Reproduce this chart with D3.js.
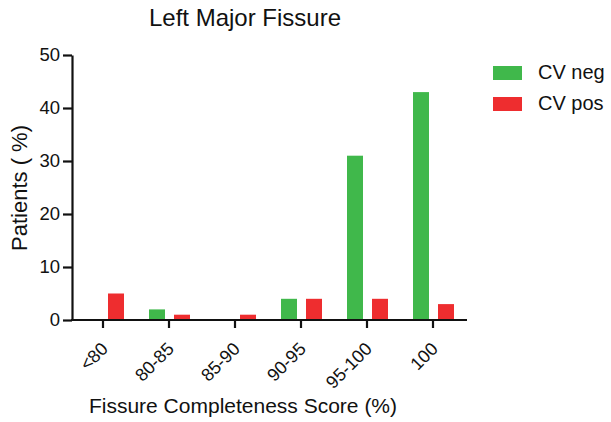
<!DOCTYPE html>
<html>
<head>
<meta charset="utf-8">
<script src="https://cdn.jsdelivr.net/npm/d3@7"></script>
<style>
  body { margin: 0; background: #fff; }
  text { font-family: "Liberation Sans", Arial, Helvetica, sans-serif; fill: #111; }
</style>
</head>
<body>
<script>
const categories = ["<80", "80-85", "85-90", "90-95", "95-100", "100"];
const series = ["CV neg", "CV pos"];
const cvNeg = [0, 2, 0, 4, 31, 43];
const cvPos = [5, 1, 1, 4, 4, 3];
const yTicks = [0, 10, 20, 30, 40, 50];
const colors = ["#40b84b", "#ee2d2f"];

const w = 611, h = 422;

const rows = categories.map((c, i) => ({cat: c, vals: [cvNeg[i], cvPos[i]]}));

const svg = d3.select("body").append("svg")
  .attr("width", w)
  .attr("height", h);

const x = d3.scaleBand()
  .domain(categories)
  .range([70, 466]);

// green / red pair inside each band
const x1 = d3.scaleBand()
  .domain(series)
  .range([-20, 21])
  .paddingInner(0.36);

const y = d3.scaleLinear()
  .domain([0, 50])
  .range([320, 55]);

svg.append("g")
  .selectAll("g")
  .data(rows)
  .enter().append("g")
  .attr("transform", d => "translate(" + (x(d.cat) + x.bandwidth() / 2) + ",0)")
  .selectAll("rect")
  .data(d => d.vals.map((v, i) => ({s: series[i], v: v, i: i})))
  .enter().append("rect")
  .attr("x", d => x1(d.s))
  .attr("width", x1.bandwidth())
  .attr("y", d => y(d.v))
  .attr("height", d => y(0) - y(d.v))
  .style("fill", d => colors[d.i]);

const yAxis = d3.axisLeft(y)
  .tickValues(yTicks)
  .tickSize(9)
  .tickSizeOuter(0)
  .tickPadding(3);

const gy = svg.append("g")
  .attr("transform", "translate(72,0)")
  .call(yAxis);
gy.selectAll("text").style("font-size", "18.5px");

const xAxis = d3.axisBottom(x)
  .tickSize(8)
  .tickSizeOuter(0)
  .tickPadding(4);

const gx = svg.append("g")
  .attr("transform", "translate(0,320)")
  .call(xAxis);
gx.select(".domain").attr("d", "M71,0H467");
gx.selectAll("text")
  .style("font-size", "18px")
  .attr("text-anchor", "end")
  .attr("dy", null)
  .attr("transform", "translate(6,30) rotate(-45)")
  .attr("y", 0)
  .attr("x", 0);

svg.selectAll(".domain, .tick line")
  .attr("stroke", "#111")
  .attr("stroke-width", 2.2);

svg.append("text")
  .attr("x", 245)
  .attr("y", 26)
  .attr("text-anchor", "middle")
  .style("font-size", "24px")
  .text("Left Major Fissure");

svg.append("text")
  .attr("x", 243)
  .attr("y", 413)
  .attr("text-anchor", "middle")
  .style("font-size", "21px")
  .text("Fissure Completeness Score (%)");

svg.append("text")
  .attr("transform", "translate(27,188) rotate(-90)")
  .attr("text-anchor", "middle")
  .style("font-size", "22px")
  .text("Patients ( %)");

const legend = svg.selectAll(".legend")
  .data(series)
  .enter().append("g")
  .attr("class", "legend")
  .attr("transform", (d, i) => "translate(493," + (66 + i * 31) + ")");

legend.append("rect")
  .attr("width", 29)
  .attr("height", 14)
  .style("fill", (d, i) => colors[i]);

legend.append("text")
  .attr("x", 45)
  .attr("y", 13)
  .style("font-size", "20px")
  .text(d => d);
</script>
</body>
</html>
